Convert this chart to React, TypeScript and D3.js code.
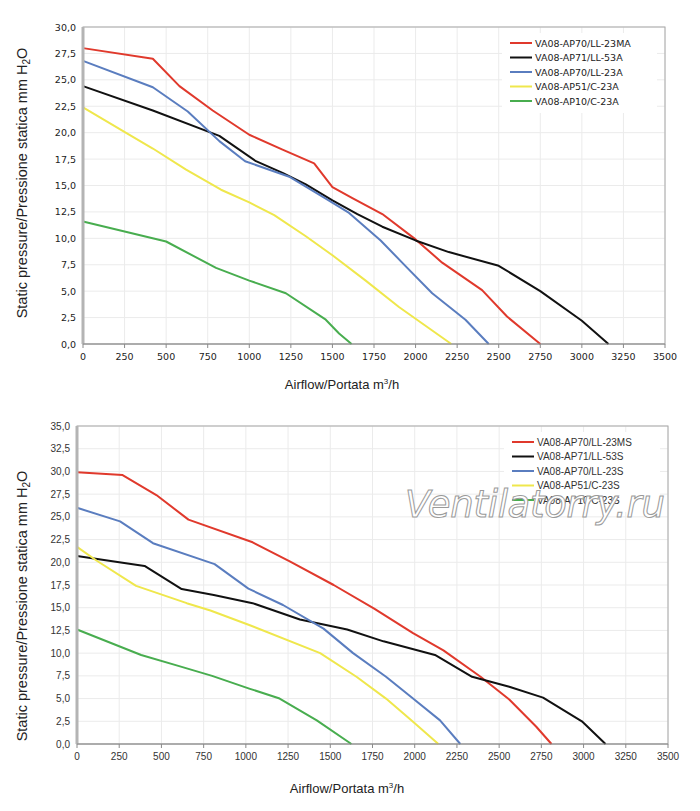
import React from "react";
import * as d3 from "d3";

type Pt = [number, number];

// airflow m3/h, static pressure mm H2O
const topNames = ["VA08-AP70/LL-23MA", "VA08-AP71/LL-53A", "VA08-AP70/LL-23A", "VA08-AP51/C-23A", "VA08-AP10/C-23A"];
const top23MA: Pt[] = [[0, 28.0], [420, 27.0], [580, 24.4], [780, 22.1], [1000, 19.8], [1200, 18.4], [1390, 17.1], [1500, 14.85], [1620, 13.8], [1800, 12.3], [2000, 9.9], [2160, 7.7], [2400, 5.1], [2550, 2.6], [2750, 0]];
const top53A: Pt[] = [[0, 24.4], [420, 22.1], [820, 19.7], [1040, 17.3], [1200, 16.2], [1340, 15.1], [1500, 13.6], [1650, 12.3], [1800, 11.1], [2000, 9.8], [2200, 8.7], [2500, 7.4], [2750, 5.0], [3000, 2.2], [3160, 0]];
const top23A: Pt[] = [[0, 26.8], [420, 24.3], [630, 22.0], [820, 19.2], [975, 17.3], [1245, 15.8], [1455, 13.8], [1600, 12.4], [1790, 9.8], [1950, 7.2], [2100, 4.8], [2300, 2.3], [2440, 0]];
const topC23A: Pt[] = [[0, 22.4], [300, 19.6], [420, 18.5], [620, 16.5], [830, 14.6], [1000, 13.4], [1150, 12.2], [1340, 10.2], [1500, 8.4], [1700, 6.0], [1900, 3.5], [2215, 0]];
const topAP10: Pt[] = [[0, 11.6], [500, 9.7], [800, 7.2], [1000, 6.0], [1220, 4.8], [1460, 2.3], [1540, 1.0], [1615, 0]];

const botNames = ["VA08-AP70/LL-23MS", "VA08-AP71/LL-53S", "VA08-AP70/LL-23S", "VA08-AP51/C-23S", "VA08-AP10/C-23S"];
const bot23MS: Pt[] = [[0, 29.9], [270, 29.6], [470, 27.4], [660, 24.7], [1040, 22.2], [1260, 20.1], [1520, 17.5], [1760, 14.9], [1990, 12.2], [2170, 10.3], [2390, 7.4], [2560, 4.9], [2720, 1.9], [2810, 0]];
const bot53S: Pt[] = [[0, 20.7], [400, 19.6], [620, 17.05], [810, 16.4], [1040, 15.5], [1320, 13.7], [1600, 12.6], [1815, 11.3], [2120, 9.8], [2340, 7.4], [2560, 6.3], [2760, 5.1], [2990, 2.5], [3130, 0]];
const bot23S: Pt[] = [[0, 26.0], [255, 24.5], [450, 22.1], [815, 19.8], [1015, 17.1], [1220, 15.3], [1460, 12.7], [1635, 10.0], [1830, 7.4], [1990, 5.0], [2150, 2.6], [2270, 0]];
const botC23S: Pt[] = [[0, 21.7], [115, 20.2], [350, 17.4], [650, 15.5], [790, 14.7], [1020, 13.1], [1440, 10.0], [1655, 7.4], [1830, 5.0], [1990, 2.45], [2140, 0]];
const botAP10: Pt[] = [[0, 12.6], [380, 9.8], [600, 8.6], [800, 7.5], [1020, 6.1], [1200, 5.0], [1420, 2.6], [1625, 0]];

const colors = ["#e0392c", "#111111", "#5a7dbf", "#efe74c", "#48ad4f"];
const xTicks = d3.range(0, 3501, 250);

interface ChartProps {
  top: number;
  left: number;
  right: number;
  bottom: number;
  yMax: number;
  names: string[];
  series: Pt[][];
  tickFont: string;
  tickSize: number;
  textColor: string;
  legendY: number;
  legendX: number;
  yTitleY: number;
  xTitleX: number;
  xTitleY: number;
}

const fmt = (v: number) => v.toFixed(1).replace(".", ",");

const Chart: React.FC<ChartProps> = (p) => {
  const x = d3.scaleLinear().domain([0, 3500]).range([p.left, p.right]);
  const y = d3.scaleLinear().domain([0, p.yMax]).range([p.bottom, p.top]);
  const yTicks = d3.range(0, p.yMax + 0.01, 2.5);
  const line = d3.line<Pt>().x(d => x(d[0])).y(d => y(d[1]));
  const titleFont = "'Liberation Sans', Arial, sans-serif";

  return (
    <g>
      {xTicks.map(t => (
        <line key={"gx" + t} x1={x(t)} x2={x(t)} y1={p.top} y2={p.bottom} stroke="#ebebeb" />
      ))}
      {yTicks.map(t => (
        <line key={"gy" + t} x1={p.left} x2={p.right} y1={y(t)} y2={y(t)} stroke="#ebebeb" />
      ))}
      <rect x={p.left} y={p.top} width={p.right - p.left} height={p.bottom - p.top} fill="none" stroke="#a8a8a8" />
      {/* legend sits on white over the grid */}
      <rect x={p.legendX - 8} y={p.legendY - 10} width={p.right - p.legendX} height={80} fill="#fff" />
      {p.series.map((s, i) => (
        <path key={"s" + i} d={line(s) ?? ""} fill="none" stroke={colors[i]} strokeWidth={2} strokeLinejoin="round" />
      ))}
      <line x1={p.left} x2={p.left} y1={p.top} y2={p.bottom} stroke="#b4b4b4" strokeWidth={3} />
      <line x1={p.left} x2={p.right} y1={p.bottom} y2={p.bottom} stroke="#8a8a8a" strokeWidth={1.2} />
      {xTicks.map(t => (
        <g key={"xt" + t}>
          <line x1={x(t)} x2={x(t)} y1={p.bottom} y2={p.bottom + 4} stroke="#8a8a8a" />
          <text x={x(t)} y={p.bottom + 16} textAnchor="middle" fontFamily={p.tickFont} fontSize={p.tickSize} fill={p.textColor}>{t}</text>
        </g>
      ))}
      {yTicks.map(t => (
        <text key={"yt" + t} x={p.left - 7} y={y(t) + 3.5} textAnchor="end" fontFamily={p.tickFont} fontSize={p.tickSize} fill={p.textColor}>{fmt(t)}</text>
      ))}
      {p.names.map((n, i) => (
        <g key={"lg" + i} transform={`translate(${p.legendX},${p.legendY + i * 14.5})`}>
          <line x1={0} x2={22} y1={0} y2={0} stroke={colors[i]} strokeWidth={2} />
          <text x={25} y={3.5} fontFamily={p.tickFont} fontSize={p.tickSize} fill={p.textColor}>{n}</text>
        </g>
      ))}
      <text transform={`translate(27,${p.yTitleY}) rotate(-90)`} textAnchor="middle" fontFamily={titleFont} fontSize={14.5} fill="#222">
        Static pressure/Pressione statica mm  H<tspan fontSize={10} dy={3}>2</tspan><tspan dy={-3}>O</tspan>
      </text>
      <text x={p.xTitleX} y={p.xTitleY} textAnchor="middle" fontFamily={titleFont} fontSize={13} fill="#222">
        Airflow/Portata  m<tspan fontSize={8} dy={-5}>3</tspan><tspan dy={5}>/h</tspan>
      </text>
    </g>
  );
};

export default function App() {
  return (
    <div style={{ position: "absolute", left: 0, top: 0 }}>
      <svg width={700} height={811} style={{ display: "block", background: "#fff" }}>
        <Chart top={27} bottom={344} left={83} right={665} yMax={30} names={topNames}
          series={[top23MA, top53A, top23A, topC23A, topAP10]}
          tickFont="'DejaVu Sans', Verdana, sans-serif" tickSize={9.5} textColor="#222"
          legendX={510} legendY={43} yTitleY={183} xTitleX={342} xTitleY={389} />
        <Chart top={426} bottom={744} left={77} right={668} yMax={35} names={botNames}
          series={[bot23MS, bot53S, bot23S, botC23S, botAP10]}
          tickFont="'Liberation Sans', Arial, sans-serif" tickSize={10} textColor="#333"
          legendX={512} legendY={442} yTitleY={606} xTitleX={347} xTitleY={793} />
        <text x={405} y={517} fontFamily="'DejaVu Sans', sans-serif" fontStyle="italic" fontSize={37}
          fill="#fff" stroke="#9a9a9a" strokeWidth={1} letterSpacing={-0.3}>Ventilatorry.ru</text>
      </svg>
    </div>
  );
}
